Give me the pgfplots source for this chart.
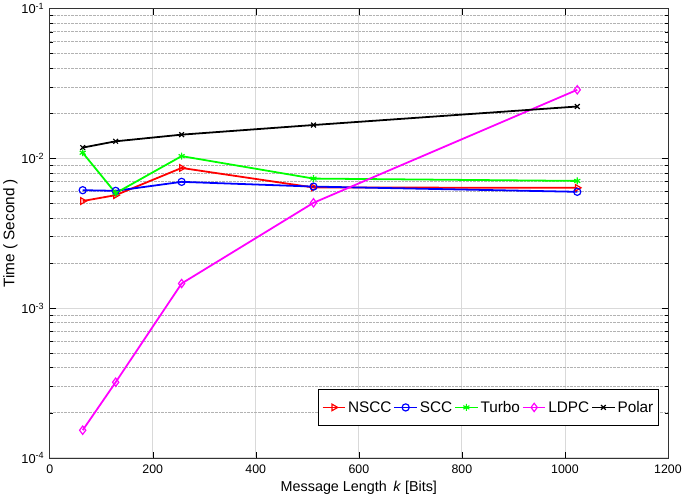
\documentclass[border=0pt]{standalone}
\usepackage{fontspec}
\setmainfont{Liberation Sans}
\usepackage{pgfplots}
\pgfplotsset{compat=1.18}
\definecolor{mred}{rgb}{1,0,0}
\definecolor{mblue}{rgb}{0,0,1}
\definecolor{mgreen}{rgb}{0,1,0}
\definecolor{mmag}{rgb}{1,0,1}
\begin{document}
\begin{tikzpicture}
\begin{axis}[
  scale only axis,
  width=622bp, height=452bp,
  xmin=0, xmax=1200,
  ymode=log, ymin=1e-4, ymax=1e-1,
  xtick={0,200,400,600,800,1000,1200},
  xticklabels={0,200,400,600,800,1000,1200},
  ytick={1e-4,1e-3,1e-2,1e-1},
  yticklabels={10\textsuperscript{-4},10\textsuperscript{-3},10\textsuperscript{-2},10\textsuperscript{-1}},
  /pgf/number format/assume math mode=true,
  xticklabel style={font=\fontsize{12.5}{14}\selectfont, yshift=-4pt},
  yticklabel style={font=\fontsize{13}{15}\selectfont, xshift=-2pt},
  tick align=inside,
  tick style={black, line width=0.5pt},
  major tick length=6bp,
  minor tick length=3bp,
  xmajorgrids, ymajorgrids, yminorgrids,
  major grid style={solid, gray!30, line width=0.8pt},
  minor grid style={densely dotted, gray!60, line width=0.7pt},
  axis line style={black!80, line width=0.7pt},
  xlabel={Message Length \,\textit{k} [Bits]},
  ylabel={Time ( Second )},
  xlabel style={font=\fontsize{14.5}{16}\selectfont, yshift=0pt},
  ylabel style={font=\fontsize{15.5}{17}\selectfont, yshift=-3pt},
  legend columns=5,
  legend style={at={(0.985,0.071)}, anchor=south east, draw=black, line width=0.7pt,
    font=\fontsize{15.5}{17}\selectfont, inner xsep=3pt, inner ysep=10pt,
    /tikz/every even column/.append style={column sep=0pt}},
  legend image code/.code={\draw[mark repeat=2,mark phase=2,#1] plot coordinates {(0cm,0cm) (0.4cm,0cm) (0.8cm,0cm)};},
  legend cell align=left,
  every axis plot/.append style={line width=1.8pt},
]
\addplot[mred, mark=triangle, mark size=3.8pt, mark options={rotate=-90, solid, line width=1.2pt}]
 coordinates {(64,5.19e-3) (128,5.68e-3) (256,8.63e-3) (512,6.39e-3) (1024,6.36e-3)};
\addlegendentry{NSCC}
\addplot[mblue, mark=o, mark size=3.6pt, mark options={solid, line width=1.2pt}]
 coordinates {(64,6.13e-3) (128,6.07e-3) (256,6.97e-3) (512,6.48e-3) (1024,5.98e-3)};
\addlegendentry{SCC}
\addplot[mgreen, mark=asterisk, mark size=3.5pt, mark options={solid, line width=1.2pt}]
 coordinates {(64,1.09e-2) (128,5.86e-3) (256,1.035e-2) (512,7.33e-3) (1024,7.07e-3)};
\addlegendentry{Turbo}
\addplot[mmag, mark=diamond, mark size=4.2pt, mark options={solid, line width=1.2pt}]
 coordinates {(64,1.53e-4) (128,3.20e-4) (256,1.46e-3) (512,5.05e-3) (1024,2.87e-2)};
\addlegendentry{LDPC}
\addplot[black, mark=x, mark size=3.4pt, mark options={solid, line width=1.2pt}]
 coordinates {(64,1.18e-2) (128,1.30e-2) (256,1.44e-2) (512,1.67e-2) (1024,2.22e-2)};
\addlegendentry{Polar}
\end{axis}
\end{tikzpicture}
\end{document}
